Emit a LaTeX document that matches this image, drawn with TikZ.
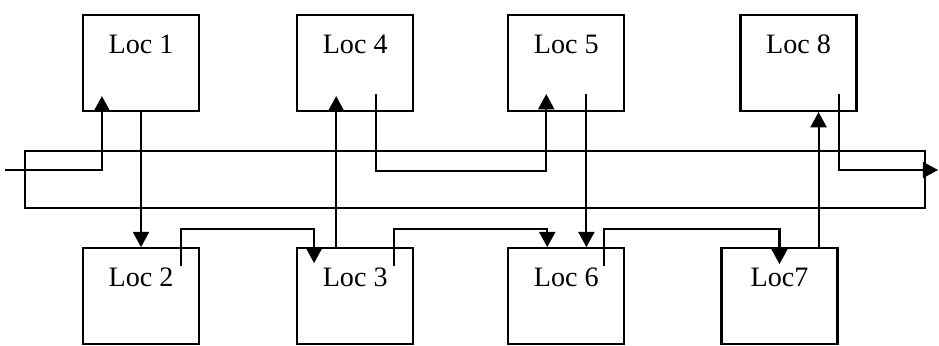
\documentclass[tikz,border=0pt]{standalone}
\usepackage{fontspec}
\setmainfont{Liberation Serif}
\usetikzlibrary{positioning, arrows.meta, calc}
\tikzset{
    base/.style={draw, line width=1.5pt, inner sep=0pt, font=\fontsize{20}{23}\selectfont},
    locbox/.style={base, rectangle, minimum width=2.9cm, text height=0.95cm, text depth=1.45cm},
    arrow/.style={-{Triangle[length=0.38cm, width=0.4cm]}, line width=1.5pt},
    line/.style={draw, line width=1.5pt}
}

\begin{document}
\begin{tikzpicture}[x=0.025cm, y=-0.025cm]
    \useasboundingbox (0,0) rectangle (939,345);

    % Top row
    \node [locbox] (loc1) at (141,63) {Loc 1};
    \node [locbox, right=2.4cm of loc1] (loc4) {Loc 4};
    \node [locbox, right=2.325cm of loc4] (loc5) {Loc 5};
    \node [locbox, right=2.85cm of loc5] (loc8) {Loc 8};

    % Bottom row
    \node [locbox, below=3.375cm of loc1] (loc2) {Loc 2};
    \node [locbox, below=3.375cm of loc4] (loc3) {Loc 3};
    \node [locbox, below=3.375cm of loc5] (loc6) {Loc 6};
    \node [locbox, right=2.375cm of loc6] (loc7) {Loc7};

    % Ring
    \draw [line] (25,151) rectangle (925,208);

    % In and out
    \coordinate (in) at (5,170);
    \coordinate (out) at (938,170);

    % Connections
    \draw [arrow] (in) -| ($(loc1.south west)+(20,-16)$);
    \draw [arrow] (loc1.south) -- (loc2.north);
    \draw [arrow] ($(loc2.north east)+(-19,19)$) -- ++(0,-37) -| ($(loc3.north west)+(18,16)$);
    \draw [arrow] ($(loc3.north)+(-19,0)$) -- ($(loc4.south)+(-19,-16)$);
    \draw [arrow] ($(loc3.north east)+(-20,19)$) -- ++(0,-37) -| ($(loc6.north west)+(40,0)$);
    \draw [arrow] ($(loc4.south east)+(-38,-18)$) -- ++(0,77) -| ($(loc5.south west)+(39,-18)$);
    \coordinate (d5) at ($(loc5.south east)+(-39,-18)$);
    \draw [arrow] (d5) -- (d5 |- loc6.north);
    \draw [arrow] ($(loc6.north east)+(-21,19)$) -- ++(0,-37) -| ($(loc7.north)+(0,17)$);
    \coordinate (u7) at ($(loc7.north east)+(-20,0)$);
    \draw [arrow] (u7) -- (u7 |- loc8.south);
    \draw [arrow] ($(loc8.south east)+(-19,-18)$) |- (out);
\end{tikzpicture}
\end{document}
